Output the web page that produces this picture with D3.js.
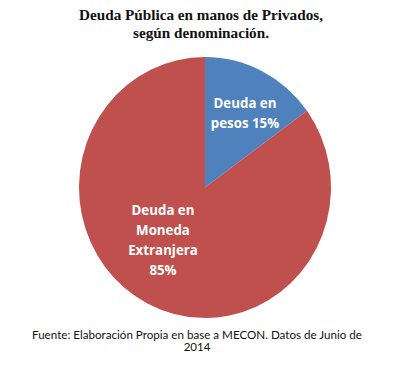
<!DOCTYPE html>
<html><head><meta charset="utf-8">
<script src="https://cdn.jsdelivr.net/npm/d3@7"></script>
<style>body{margin:0;background:#fff}svg{display:block}</style>
</head><body>
<script>
const categories = ["Deuda en pesos", "Deuda en Moneda Extranjera"];
const values = [15, 85];
const labels = [["Deuda en", "pesos 15%"], ["Deuda en", "Moneda", "Extranjera", "85%"]];
const colors = ["#4F81BD", "#C0504D"];
const titleLines = ["Deuda Pública en manos de Privados,", "según denominación."];
const footerLines = ["Fuente: Elaboración Propia en base a MECON. Datos  de Junio de", "2014"];

const W = 400, H = 370;
const svg = d3.select("body").append("svg").attr("width", W).attr("height", H);

svg.append("g").selectAll("text").data(titleLines).join("text")
  .attr("x", 201).attr("y", (d, i) => 20 + i * 18)
  .attr("text-anchor", "middle")
  .attr("font-family", "Liberation Serif, Times New Roman, serif")
  .attr("font-weight", "bold").attr("font-size", 15.2).attr("fill", "#111")
  .text(d => d);

const cx = 205, cy = 187.5, r = 126;
const pie = d3.pie().sort(null).value(d => d)(values);
const arc = d3.arc().innerRadius(0).outerRadius(r);
const g = svg.append("g").attr("transform", `translate(${cx},${cy}) scale(1,1.035)`);
g.selectAll("path").data(pie).join("path")
  .attr("d", arc).attr("fill", (d, i) => colors[i]);

const labelPos = [[40, -85], [-42, 22]];
const lg = svg.append("g").attr("transform", `translate(${cx},${cy})`);
labels.forEach((lines, k) => {
  lg.append("g").selectAll("text").data(lines).join("text")
    .attr("x", labelPos[k][0]).attr("y", (d, i) => labelPos[k][1] + 5 + i * 20)
    .attr("text-anchor", "middle")
    .attr("font-family", "Open Sans, sans-serif")
    .attr("font-weight", "bold").attr("font-size", 13.3).attr("fill", "#fff")
    .text(d => d);
});

svg.append("g").selectAll("text").data(footerLines).join("text")
  .attr("x", 197).attr("y", (d, i) => 339 + i * 11.5)
  .attr("text-anchor", "middle")
  .attr("font-family", "Lato, sans-serif")
  .attr("font-size", 11.5).attr("fill", "#111")
  .each(function(d, i) { if (i === 0) d3.select(this).attr("textLength", 330).attr("lengthAdjust", "spacingAndGlyphs"); })
  .text(d => d);
</script>
</body></html>
